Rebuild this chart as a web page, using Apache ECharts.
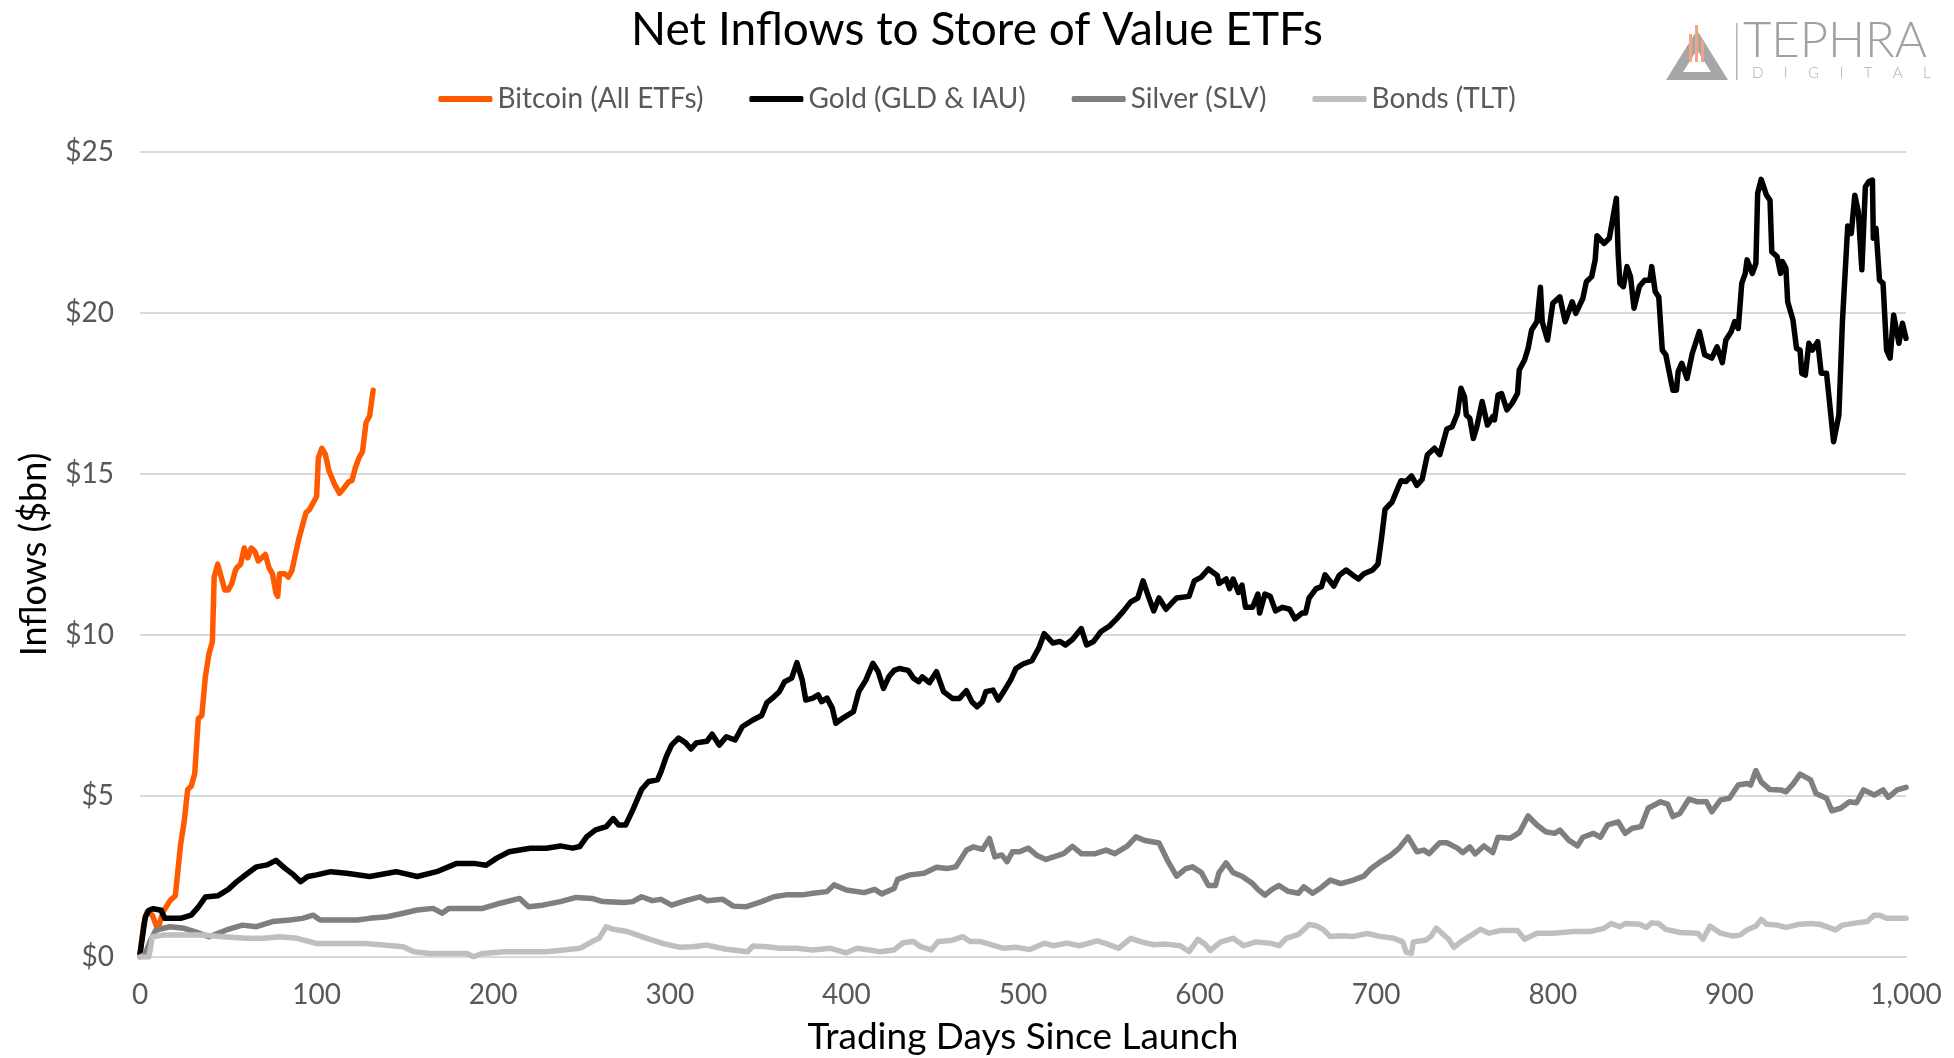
<!DOCTYPE html>
<html>
<head>
    <meta charset="utf-8">
    <title>Net Inflows to Store of Value ETFs</title>
    <style>
        html, body { margin: 0; padding: 0; background: #fff; }
        #chart1 { width: 1954px; height: 1058px; }
    </style>
</head>
<body>
<div id="chart1"></div>
<script src="https://cdn.jsdelivr.net/npm/echarts@6.0.0/dist/echarts.min.js"></script>
<script type="text/javascript">
    // series names as in the legend
    var seriesNames = ['Bitcoin (All ETFs)', 'Gold (GLD & IAU)', 'Silver (SLV)', 'Bonds (TLT)'];
    var seriesColors = ['#ff5a00', '#000000', '#7f7f7f', '#bfbfbf'];

    // [trading day, cumulative inflows $bn]
    var bitcoinPts = [[0,0.05],[2,1.0],[4,1.4],[7,1.3],[10,0.85],[13,1.4],[17,1.75],[20,1.9],[23,3.5],[25,4.2],[27,5.2],
        [29,5.3],[31,5.7],[33,7.4],[35,7.5],[37,8.7],[39,9.4],[41,9.8],[42,11.8],[44,12.2],[46,11.8],[48,11.4],[50,11.4],
        [52,11.6],[54,12.0],[55,12.1],[57,12.2],[59,12.7],[61,12.4],[63,12.7],[65,12.6],[67,12.3],[69,12.4],[71,12.5],
        [73,12.1],[75,11.9],[77,11.3],[78,11.2],[79,11.9],[82,11.9],[84,11.8],[86,12.0],[88,12.5],[90,13.0],[92,13.4],
        [94,13.8],[96,13.9],[98,14.1],[100,14.3],[101,15.5],[103,15.8],[105,15.6],[107,15.1],[110,14.7],[113,14.4],
        [116,14.6],[118,14.75],[120,14.8],[122,15.2],[124,15.5],[126,15.7],[128,16.6],[130,16.8],[132,17.6]];

    var goldPts = [[0,0.1],[1,0.12],[3,1.25],[5,1.45],[7.5,1.5],[12,1.45],[14,1.2],[23,1.2],[29,1.3],[33,1.55],[37,1.86],
        [44,1.9],[50,2.1],[55,2.35],[61,2.6],[66,2.8],[72,2.86],[77,3.0],[82,2.76],[87,2.55],[91,2.34],[95,2.5],[100,2.55],
        [108,2.65],[117,2.6],[130,2.5],[145,2.65],[157,2.5],[168,2.65],[179,2.9],[190,2.9],[196,2.85],[202,3.07],[209,3.27],
        [221,3.38],[230,3.38],[238,3.45],[245,3.38],[249,3.43],[253,3.74],[258,3.95],[264,4.05],[268,4.3],[271,4.1],[275,4.1],
        [279,4.56],[284,5.2],[288,5.45],[293,5.5],[295,5.75],[298,6.22],[301,6.58],[305,6.8],[309,6.65],[312,6.46],[315,6.65],
        [321,6.7],[324,6.92],[328,6.58],[332,6.84],[337,6.74],[341,7.15],[347,7.36],[352,7.5],[355,7.9],[359,8.08],[362,8.24],
        [365,8.55],[369,8.66],[372,9.14],[375,8.6],[377,7.98],[381,8.04],[384,8.14],[386,7.93],[389,8.04],[392,7.73],[394,7.26],
        [398,7.42],[404,7.62],[407,8.24],[411,8.6],[415,9.12],[418,8.86],[421,8.34],[424,8.7],[427,8.9],[430,8.96],[435,8.9],
        [438,8.66],[441,8.55],[443,8.7],[447,8.52],[451,8.86],[455,8.24],[460,8.03],[464,8.03],[468,8.27],[471,7.93],[474,7.77],
        [477,7.93],[479,8.24],[483,8.29],[486,7.98],[489,8.24],[493,8.6],[496,8.96],[500,9.1],[505,9.2],[509,9.6],[512,10.04],
        [517,9.75],[521,9.8],[524,9.69],[528,9.86],[533,10.2],[536,9.69],[540,9.8],[544,10.1],[549,10.28],[553,10.5],[557,10.75],
        [561,11.03],[565,11.15],[568,11.68],[571,11.2],[574,10.75],[577,11.15],[581,10.8],[587,11.15],[594,11.2],[597,11.68],
        [601,11.8],[605,12.05],[610,11.85],[611,11.6],[615,11.74],[617,11.44],[619,11.74],[622,11.32],[624,11.55],[626,10.86],
        [630,10.86],[633,11.27],[634,10.68],[637,11.27],[640,11.2],[643,10.75],[647,10.86],[651,10.8],[654,10.5],[658,10.68],
        [660,10.68],[662,11.15],[666,11.44],[669,11.5],[671,11.87],[676,11.52],[679,11.85],[683,12.02],[687,11.85],[690,11.74],
        [693,11.9],[698,12.02],[701,12.2],[703,13.0],[705,13.9],[709,14.13],[712,14.53],[714,14.79],[717,14.77],[720,14.94],
        [723,14.65],[726,14.83],[729,15.6],[733,15.8],[736,15.6],[740,16.4],[743,16.47],[746,16.88],[748,17.66],[750,17.4],
        [751,16.83],[753,16.73],[755,16.1],[757,16.47],[760,17.25],[763,16.52],[766,16.78],[767,16.68],[769,17.45],[771,17.5],
        [774,16.99],[777,17.2],[780,17.5],[781,18.23],[784,18.54],[786,18.9],[788,19.47],[791,19.73],[793,20.8],[794,19.73],
        [797,19.16],[800,20.3],[804,20.5],[807,19.73],[811,20.35],[813,19.99],[817,20.45],[819,20.97],[822,21.13],[824,21.65],
        [825,22.4],[829,22.16],[832,22.32],[834,22.94],[836,23.56],[837,21.85],[838,20.92],[840,20.82],[842,21.44],[844,21.13],
        [846,20.15],[849,20.82],[852,21.02],[855,21.02],[856,21.44],[858,20.66],[860,20.5],[862,18.85],[864,18.7],[868,17.6],
        [870,17.6],[871,18.18],[873,18.44],[876,17.97],[879,18.75],[883,19.42],[886,18.7],[890,18.6],[893,18.95],[896,18.46],
        [898,19.16],[901,19.42],[903,19.73],[905,19.52],[907,20.92],[909,21.23],[910,21.65],[913,21.23],[915,21.54],[916,23.72],
        [918,24.15],[921,23.66],[923,23.5],[924,21.9],[927,21.75],[929,21.23],[930,21.6],[932,21.39],[933,20.35],[936,19.78],
        [938,18.9],[940,18.85],[941,18.13],[943,18.07],[945,19.06],[947,18.85],[950,19.11],[952,18.13],[955,18.13],[959,16.0],
        [962,16.83],[964,19.73],[967,22.7],[969,22.47],[971,23.66],[973,23.15],[975,21.34],[977,23.92],[979,24.08],[981,24.13],
        [981.5,22.32],[983,22.63],[985,21.02],[987,20.92],[989,18.85],[991,18.6],[993,19.94],[996,19.06],[998,19.68],[1000,19.21]];

    var silverPts = [[0,0],[3,0.1],[6,0.53],[9,0.84],[17,0.94],[25,0.89],[31,0.79],[39,0.63],[49,0.84],[58,0.99],[66,0.94],
        [75,1.1],[85,1.15],[92,1.2],[98,1.3],[102,1.15],[111,1.15],[123,1.15],[130,1.2],[140,1.25],[149,1.36],[157,1.46],
        [166,1.51],[171,1.36],[175,1.51],[185,1.51],[194,1.51],[204,1.67],[215,1.82],[220,1.56],[228,1.61],[238,1.72],[247,1.85],
        [256,1.82],[262,1.72],[274,1.69],[279,1.72],[284,1.87],[290,1.75],[295,1.79],[301,1.61],[309,1.75],[317,1.87],[321,1.75],
        [330,1.79],[336,1.58],[343,1.56],[352,1.72],[359,1.87],[366,1.93],[375,1.93],[381,1.98],[389,2.03],[393,2.24],[400,2.08],
        [410,2.0],[416,2.1],[420,1.96],[427,2.13],[429,2.41],[436,2.55],[444,2.6],[451,2.79],[457,2.75],[462,2.8],[468,3.32],
        [472,3.42],[477,3.34],[481,3.68],[484,3.11],[488,3.17],[491,2.96],[494,3.27],[498,3.27],[503,3.38],[508,3.15],[513,3.03],
        [523,3.21],[528,3.44],[533,3.21],[541,3.21],[547,3.32],[552,3.21],[559,3.44],[564,3.73],[569,3.62],[577,3.54],[582,2.98],
        [587,2.51],[592,2.74],[596,2.8],[601,2.62],[605,2.22],[609,2.22],[611,2.62],[615,2.92],[619,2.62],[624,2.51],[630,2.28],
        [633,2.1],[637,1.92],[641,2.1],[645,2.22],[650,2.04],[656,1.98],[659,2.18],[664,1.98],[669,2.16],[674,2.39],[680,2.28],
        [687,2.39],[693,2.51],[697,2.74],[703,2.98],[708,3.15],[713,3.38],[718,3.73],[723,3.27],[727,3.32],[730,3.21],[736,3.55],
        [740,3.55],[746,3.38],[749,3.24],[753,3.42],[756,3.2],[761,3.45],[766,3.24],[769,3.72],[776,3.69],[781,3.86],[786,4.38],
        [791,4.1],[796,3.89],[801,3.84],[804,3.94],[809,3.63],[814,3.45],[817,3.72],[823,3.84],[827,3.72],[831,4.1],[837,4.2],
        [841,3.84],[845,4.0],[850,4.05],[854,4.62],[861,4.82],[865,4.75],[868,4.36],[872,4.46],[877,4.9],[882,4.82],[887,4.82],
        [890,4.51],[895,4.88],[900,4.93],[905,5.34],[910,5.39],[912,5.34],[915,5.79],[918,5.44],[923,5.2],[929,5.19],[932,5.13],
        [936,5.37],[940,5.68],[946,5.5],[949,5.08],[955,4.93],[958,4.54],[963,4.62],[968,4.82],[972,4.79],[976,5.19],[982,5.03],
        [987,5.19],[990,4.96],[995,5.19],[1000,5.27]];

    var bondsPts = [[0,0],[5,0],[7,0.63],[13,0.68],[25,0.68],[36,0.68],[47,0.63],[60,0.58],[70,0.58],[79,0.63],[89,0.58],
        [100,0.42],[111,0.42],[127,0.42],[138,0.37],[149,0.32],[155,0.16],[164,0.11],[176,0.11],[185,0.11],[189,0.01],[194,0.11],
        [206,0.16],[217,0.16],[230,0.16],[240,0.22],[249,0.27],[251,0.32],[256,0.48],[260,0.58],[264,0.94],[268,0.86],[276,0.79],
        [287,0.58],[296,0.42],[306,0.3],[313,0.32],[321,0.37],[332,0.24],[344,0.16],[347,0.34],[355,0.32],[362,0.27],[372,0.27],
        [381,0.22],[391,0.27],[400,0.13],[406,0.27],[413,0.22],[419,0.16],[427,0.22],[432,0.44],[438,0.48],[442,0.32],[448,0.22],
        [452,0.48],[459,0.51],[466,0.63],[470,0.48],[476,0.48],[481,0.4],[489,0.27],[496,0.3],[504,0.23],[512,0.43],[517,0.35],
        [525,0.43],[532,0.35],[542,0.5],[548,0.4],[554,0.27],[561,0.58],[567,0.47],[574,0.38],[581,0.4],[589,0.35],[594,0.17],
        [599,0.55],[603,0.4],[606,0.2],[612,0.47],[619,0.58],[625,0.35],[632,0.47],[640,0.43],[645,0.35],[649,0.58],[656,0.7],
        [662,1.01],[666,0.97],[670,0.85],[674,0.64],[680,0.66],[687,0.64],[695,0.73],[702,0.64],[710,0.58],[715,0.47],[717,0.15],
        [720,0.12],[721,0.47],[728,0.52],[731,0.64],[734,0.9],[738,0.7],[741,0.55],[744,0.3],[748,0.48],[754,0.68],[759,0.86],
        [764,0.74],[770,0.82],[780,0.82],[784,0.55],[791,0.74],[800,0.74],[812,0.79],[821,0.79],[829,0.89],[833,1.04],[838,0.94],
        [841,1.04],[849,1.02],[853,0.92],[856,1.06],[860,1.04],[864,0.86],[872,0.76],[882,0.74],[885,0.55],[889,0.96],[895,0.74],
        [902,0.65],[906,0.68],[910,0.84],[915,0.96],[918,1.17],[921,1.02],[927,0.99],[932,0.92],[940,1.02],[946,1.04],[951,1.02],
        [960,0.84],[964,0.99],[972,1.06],[978,1.1],[982,1.3],[985,1.3],[989,1.2],[995,1.2],[1000,1.2]];

    var seriesData = [bitcoinPts, goldPts, silverPts, bondsPts];

    var fontName = 'Lato, "Open Sans", sans-serif';
    var myChart = echarts.init(document.getElementById('chart1'));

    var option = {
        backgroundColor: '#ffffff',
        animation: false,
        title: {
            text: 'Net Inflows to Store of Value ETFs',
            left: 'center',
            top: 2,
            textStyle: { fontFamily: fontName, fontSize: 46, fontWeight: 'normal', color: '#000' }
        },
        legend: {
            top: 80,
            left: 'center',
            icon: 'roundRect',
            itemWidth: 54,
            itemHeight: 6,
            itemGap: 46,
            data: seriesNames,
            textStyle: { fontFamily: fontName, fontSize: 28, color: '#595959' }
        },
        // keep the plot box fixed, do not shrink it to fit the axis names
        grid: { left: 140, right: 48, top: 152, bottom: 101, outerBoundsMode: 'none' },
        xAxis: {
            type: 'value',
            min: 0,
            max: 1000,
            interval: 100,
            name: 'Trading Days Since Launch',
            nameLocation: 'middle',
            nameGap: 62,
            nameTextStyle: { fontFamily: fontName, fontSize: 37, color: '#000' },
            axisLine: { show: true, lineStyle: { color: '#d9d9d9', width: 2 } },
            axisTick: { show: false },
            splitLine: { show: false },
            axisLabel: {
                margin: 24,
                fontFamily: fontName, fontSize: 28, color: '#595959',
                formatter: function (v) { return v.toLocaleString('en-US'); }
            }
        },
        yAxis: {
            type: 'value',
            min: 0,
            max: 25,
            interval: 5,
            name: 'Inflows ($bn)',
            nameLocation: 'middle',
            nameGap: 88,
            nameTextStyle: { fontFamily: fontName, fontSize: 36, color: '#000' },
            axisLine: { show: false },
            axisTick: { show: false },
            splitLine: { lineStyle: { color: '#d9d9d9', width: 2 } },
            axisLabel: {
                margin: 26,
                fontFamily: fontName, fontSize: 28, color: '#595959',
                formatter: function (v) { return '$' + v; }
            }
        },
        series: seriesNames.map(function (name, i) {
            return {
                name: name,
                type: 'line',
                data: seriesData[i],
                showSymbol: false,
                symbol: 'none',
                color: seriesColors[i],
                lineStyle: { width: 5.5, color: seriesColors[i], join: 'round', cap: 'round' },
                z: 2 + i
            };
        }),
        // Tephra Digital logo, top right
        graphic: [
            { type: 'polygon', shape: { points: [[1666, 80], [1697, 30], [1728, 80]] }, style: { fill: '#a6a8a8' } },
            { type: 'polygon', shape: { points: [[1683, 72], [1697, 50], [1711, 72]] }, style: { fill: '#ffffff' } },
            { type: 'rect', shape: { x: 1689, y: 34, width: 3, height: 28 }, style: { fill: '#f2a385' } },
            { type: 'rect', shape: { x: 1695, y: 25, width: 3, height: 37 }, style: { fill: '#f2a385' } },
            { type: 'rect', shape: { x: 1701, y: 40, width: 3, height: 22 }, style: { fill: '#f2a385' } },
            { type: 'rect', shape: { x: 1736, y: 23, width: 1.5, height: 57 }, style: { fill: '#b5b5b5' } },
            { type: 'text', x: 1743, y: 17, style: { text: 'TEPHRA', fill: '#a0a0a0', fontFamily: fontName, fontWeight: 300, fontSize: 49 } },
            { type: 'text', x: 1752, y: 66, style: { text: 'D     I     G     I     T     A     L', fill: '#b0b0b0', fontFamily: fontName, fontWeight: 300, fontSize: 15 } }
        ]
    };
    myChart.setOption(option);
</script>
</body>
</html>
